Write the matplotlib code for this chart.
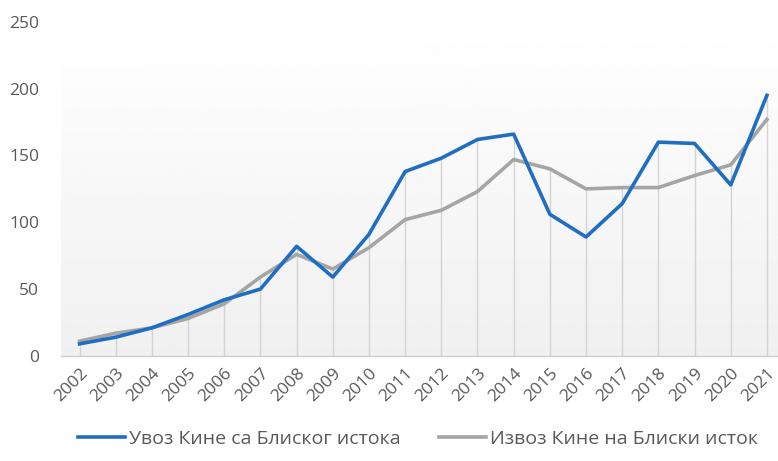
import matplotlib
matplotlib.use("Agg")
import matplotlib.pyplot as plt
import numpy as np

# ── data ──────────────────────────────────────────────────────────────────────
years = [str(y) for y in range(2002, 2022)]
imports = [9, 14, 21, 31, 42, 50, 82, 59, 91, 138, 148, 162, 166, 106, 89, 114, 160, 159, 128, 195]
exports = [11, 17, 21, 28, 39, 59, 76, 65, 81, 102, 109, 123, 147, 140, 125, 126, 126, 135, 143, 177]
imports_label = "Увоз Кине са Блиског истока"
exports_label = "Извоз Кине на Блиски исток"

BLUE = "#1F6EC1"
GRAY = "#A5A5A5"
TEXT = "#595959"
FONT = "Open Sans"

fig = plt.figure(figsize=(7.78, 4.61), dpi=100, facecolor="white")
ax = fig.add_axes([0.079, 0.228, 0.93, 0.7245])

x = np.arange(len(years))
ax.set_xlim(-0.5, len(years) - 0.5)
ax.set_ylim(0, 250)

# soft vertical gradient behind the plot
grad = np.linspace(0.94, 1.0, 256).reshape(-1, 1)
ax.imshow(grad, extent=(-0.5, len(years) - 0.5, 0, 250), origin="lower",
          cmap="gray", vmin=0, vmax=1, aspect="auto", zorder=0)

# drop lines from axis to the higher of the two series
ax.vlines(x, 0, np.maximum(imports, exports), color="#D4D4D4", linewidth=1.0, zorder=1)

ax.plot(x, imports, color=BLUE, linewidth=2.6, label=imports_label, zorder=3,
        solid_joinstyle="round")
ax.plot(x, exports, color=GRAY, linewidth=2.6, label=exports_label, zorder=2,
        solid_joinstyle="round")

for side in ("top", "right", "left"):
    ax.spines[side].set_visible(False)
ax.spines["bottom"].set_color("#D0D0D0")
ax.spines["bottom"].set_linewidth(1.0)

ax.set_yticks([0, 50, 100, 150, 200, 250])
ax.set_xticks(x)
ax.set_xticklabels(years, rotation=45, ha="right", rotation_mode="anchor")
ax.tick_params(axis="both", length=0, colors=TEXT, labelsize=12.5)
ax.tick_params(axis="y", pad=16)
ax.tick_params(axis="x", pad=7)
for lbl in ax.get_xticklabels() + ax.get_yticklabels():
    lbl.set_fontfamily(FONT)

fig.legend(loc="lower left", bbox_to_anchor=(0.078, -0.01), ncol=2, frameon=False,
           prop={"family": FONT, "size": 14}, labelcolor=TEXT,
           handlelength=2.4, columnspacing=2.0, handletextpad=0.2)

fig.savefig("out.png", dpi=100, facecolor="white")
